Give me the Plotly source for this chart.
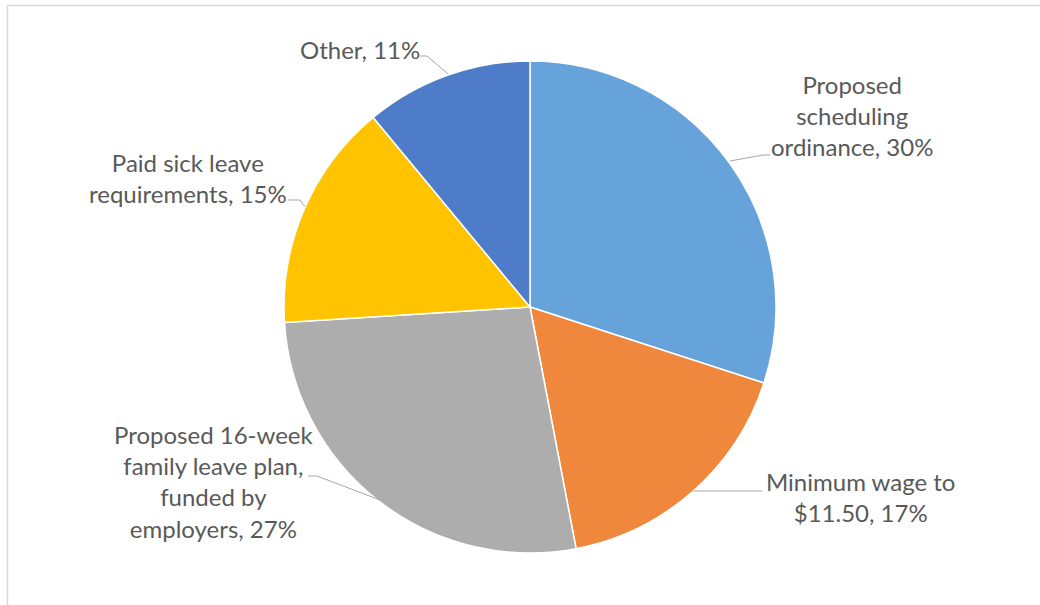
import plotly.graph_objects as go

categories = ["Proposed scheduling ordinance", "Minimum wage to $11.50",
              "Proposed 16-week family leave plan, funded by employers",
              "Paid sick leave requirements", "Other"]
values = [30, 17, 27, 15, 11]
label_texts = ["Proposed<br>scheduling<br>ordinance, 30%",
               "Minimum wage to<br>$11.50, 17%",
               "Proposed 16-week<br>family leave plan,<br>funded by<br>employers, 27%",
               "Paid sick leave<br>requirements, 15%",
               "Other, 11%"]
colors = ["#66A3DB", "#EF873C", "#ADADAD", "#FFC300", "#4E7CC8"]

W, H = 1040, 605
def px(x): return x / W
def py(y): return 1 - y / H

cx, cy, r = 530, 307, 246

fig = go.Figure(go.Pie(
    labels=categories, values=values, sort=False, direction="clockwise",
    rotation=0, textinfo="none", hoverinfo="label+percent",
    marker=dict(colors=colors, line=dict(color="white", width=1.5)),
    domain=dict(x=[px(cx - r), px(cx + r)], y=[py(cy + r), py(cy - r)]),
))

# label positions (pixel centers) and leader lines
label_pos = [(852, 115), (860, 497), (214, 481), (188, 178), (360, 50)]
leaders = [
    [(730, 161), (763, 155), (770, 155)],
    [(692, 491), (762, 491)],
    [(308, 476), (317, 476), (380, 500)],
    [(288, 200), (300, 200), (305, 207)],
    [(420, 56), (427, 56), (448, 74)],
]

annotations = []
for txt, (x, y) in zip(label_texts, label_pos):
    annotations.append(dict(text=txt, x=px(x), y=py(y), xref="paper", yref="paper",
                            xanchor="center", yanchor="middle", align="center",
                            showarrow=False,
                            font=dict(family="Lato, Carlito, Calibri, sans-serif",
                                      size=24, color="#595959")))

shapes = []
for pts in leaders:
    path = "M " + " L ".join(f"{px(x)},{py(y)}" for x, y in pts)
    shapes.append(dict(type="path", path=path, xref="paper", yref="paper",
                       line=dict(color="#A6A6A6", width=1)))
# chart border (top and left visible)
shapes.append(dict(type="line", xref="paper", yref="paper", x0=px(7), x1=1.0,
                   y0=py(5.5), y1=py(5.5), line=dict(color="#D9D9D9", width=1.5)))
shapes.append(dict(type="line", xref="paper", yref="paper", x0=px(7.5), x1=px(7.5),
                   y0=py(5.5), y1=0, line=dict(color="#D9D9D9", width=1.5)))

fig.update_layout(width=W, height=H, margin=dict(l=0, r=0, t=0, b=0),
                  showlegend=False, paper_bgcolor="white", plot_bgcolor="white",
                  annotations=annotations, shapes=shapes)

fig.write_html("out.html")
